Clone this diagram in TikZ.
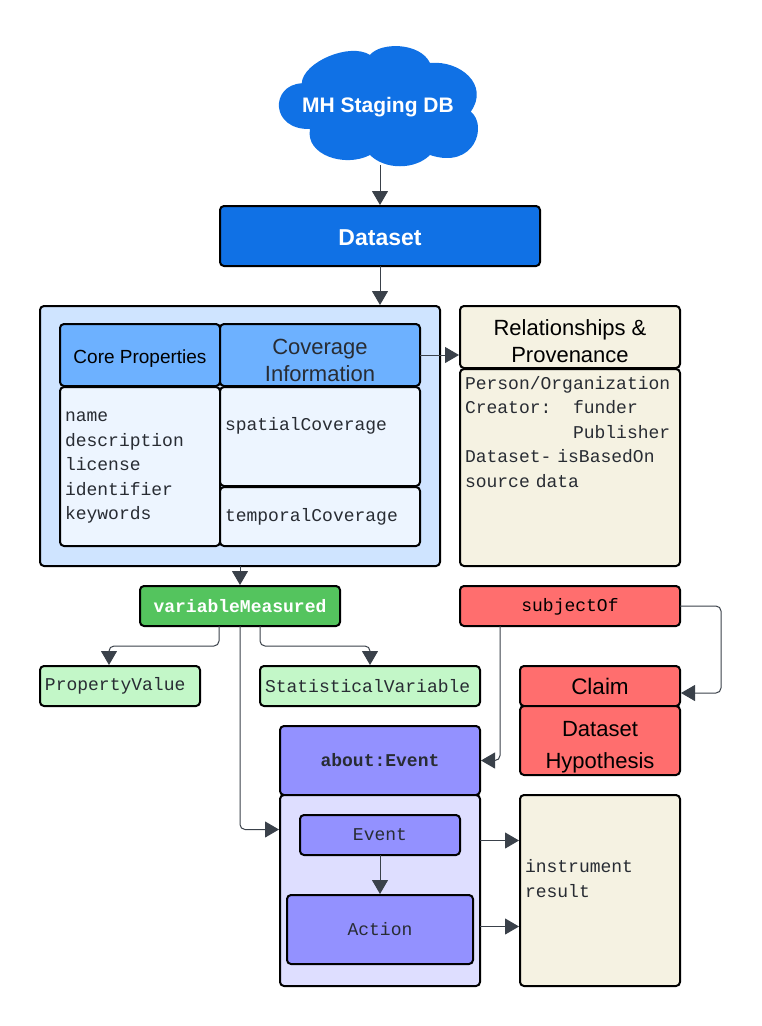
\documentclass[tikz,border=0pt]{standalone}
\usepackage{fontspec}
\setmainfont{Liberation Sans}
\setmonofont[WordSpace={1,0,0}]{Liberation Mono}
\usetikzlibrary{arrows.meta}
\definecolor{cloudblue}{HTML}{1071E5}
\definecolor{paleblue}{HTML}{CFE4FF}
\definecolor{midblue}{HTML}{6DB1FF}
\definecolor{iceblue}{HTML}{EDF5FF}
\definecolor{cream}{HTML}{F5F2E2}
\definecolor{leaf}{HTML}{54C45E}
\definecolor{paleleaf}{HTML}{C3F7C8}
\definecolor{coral}{HTML}{FF6E6E}
\definecolor{violet}{HTML}{9391FF}
\definecolor{paleviolet}{HTML}{DEDEFF}
\definecolor{ink}{HTML}{282C33}
\definecolor{wire}{HTML}{3A414A}
\newcommand{\lift}[1]{\rule{0pt}{#1pt}}
\tikzset{
	panel/.style n args={3}{draw=black, line width=2pt, rounded corners=4pt, fill=#3, anchor=north west, inner sep=0pt, outer sep=0pt, text=ink, align=center, minimum width=#1 pt, minimum height=#2 pt},
	listpanel/.style n args={3}{panel={#1}{#2}{#3}, inner xsep=5pt, text width=#1 pt-10pt, align=left},
	monotext/.style={font=\ttfamily\fontsize{18}{24.5}\selectfont},
	boldmono/.style={font=\ttfamily\bfseries\fontsize{18}{24.5}\selectfont},
	wired/.style={draw=wire, line width=1pt, rounded corners=5pt, shorten >=1pt, -{Triangle[width=16pt,length=14pt]}}
}
\begin{document}
\begin{tikzpicture}[x=1pt,y=-1pt]
	\useasboundingbox (0,0) rectangle (761,1026);

	\fill[cloudblue] (301.7,83.3) .. controls (303,62) and (350,42) .. (370,55)
		.. controls (380,42) and (420,42) .. (430,63)
		.. controls (460,60) and (490,85) .. (470.7,111.7)
		.. controls (488,125) and (475,170) .. (430,155)
		.. controls (415,170) and (385,170) .. (370,155)
		.. controls (345,168) and (305,155) .. (310,129)
		.. controls (270,130) and (270,85) .. cycle;
	\node[text=white, font=\bfseries\fontsize{21}{24}\selectfont, minimum width=197pt, minimum height=116pt, inner sep=0pt] (staging) at (378,107) {MH Staging DB};

	\node[panel={320}{60}{cloudblue}, text=white, font=\bfseries\fontsize{23}{26}\selectfont] (dataset) at (220,206) {\lift{20}Dataset};

	\node[panel={400}{260}{paleblue}] (scope) at (40,306) {};
	\node[panel={160}{62}{midblue}, text=black, font=\fontsize{19}{22}\selectfont] (core) at (60,324) {\lift{21}Core Properties};
	\node[panel={200}{62}{midblue}, font=\fontsize{22}{27}\selectfont] (coverage) at (220,324) {\lift{26}Coverage\\Information};
	\node[listpanel={160}{159}{iceblue}, monotext] (corelist) at (60,387) {\lift{12}name\\description\\license\\identifier\\keywords};
	\node[listpanel={200}{99}{iceblue}, monotext] (spatial) at (220,387) {spatialCoverage\\\mbox{}};
	\node[listpanel={200}{59}{iceblue}, monotext] (temporal) at (220,487) {temporalCoverage};

	\node[panel={220}{62}{cream}, text=black, font=\fontsize{22}{27}\selectfont] (relations) at (460,306) {\lift{24}Relationships \&\\Provenance};
	\node[listpanel={220}{197}{cream}, monotext] (provenance) at (460,369) {\lift{15}Person/Organization\\Creator:\phantom{xx}funder\\\phantom{xxxxxxxxxx}Publisher\\Dataset- isBasedOn\\source data\\\mbox{}\\\mbox{}\\\mbox{}};

	\node[panel={200}{40}{leaf}, text=white, boldmono] (variable) at (140,586) {variableMeasured};
	\node[listpanel={160}{40}{paleleaf}, monotext] (propvalue) at (40,666) {PropertyValue};
	\node[listpanel={220}{40}{paleleaf}, monotext] (statvar) at (260,666) {StatisticalVariable};

	\node[panel={220}{40}{coral}, text=black, monotext] (subject) at (460,586) {\lift{15}subjectOf};
	\node[panel={160}{40}{coral}, text=black, font=\fontsize{22.5}{27}\selectfont] (claim) at (520,666) {\lift{18}Claim};
	\node[panel={160}{69}{coral}, text=black, font=\fontsize{22}{32}\selectfont] (hypothesis) at (520,706) {\lift{28}Dataset\\Hypothesis};

	\node[panel={200}{69}{violet}, boldmono] (about) at (280,726) {about:Event};
	\node[panel={200}{191}{paleviolet}] (eventscope) at (280,795) {};
	\node[panel={160}{40}{violet}, monotext] (event) at (300,815) {Event};
	\node[panel={186}{69}{violet}, monotext] (action) at (287,895) {Action};
	\node[listpanel={160}{191}{cream}, monotext] (outcome) at (520,795) {instrument\\result\\\mbox{}};

	\draw[wired] (staging.south -| dataset.north) -- (dataset.north);
	\draw[wired] (dataset.south) -- (scope.north -| dataset.south);
	\draw[wired] (coverage.east) -- (relations.west |- coverage.east);
	\draw[wired] (scope.south -| variable.north) -- (variable.north);
	\draw[wired] ([xshift=-21pt]variable.south) |- (109,646) -- (propvalue.north -| 109,646);
	\draw[wired] ([xshift=20pt]variable.south) |- (370,646) -- (statvar.north);
	\draw[wired] (variable.south) |- ([yshift=61pt]eventscope.west);
	\draw[wired] ([xshift=-70pt]subject.south) |- (about.east);
	\draw[wired] (subject.east) -| (721,693) -- ([yshift=-7pt]claim.east);
	\draw[wired] ([yshift=50pt]eventscope.east) -- ([yshift=50pt]eventscope.east -| outcome.west);
	\draw[wired] ([yshift=-36pt]eventscope.east) -- ([yshift=-36pt]eventscope.east -| outcome.west);
	\draw[wired] (event.south) -- (action.north -| event.south);
\end{tikzpicture}
\end{document}
